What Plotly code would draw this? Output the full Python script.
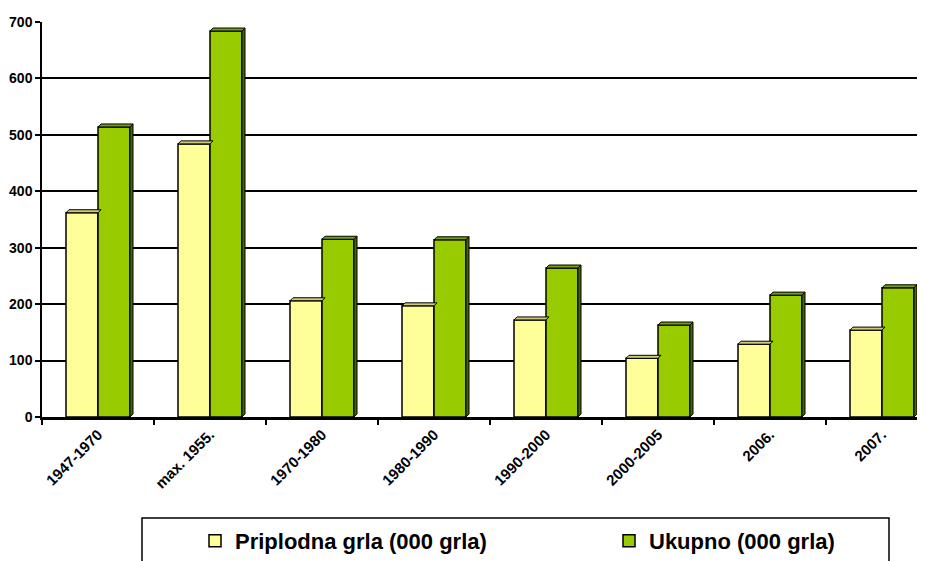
import plotly.graph_objects as go

categories = ["1947-1970", "max. 1955.", "1970-1980", "1980-1990", "1990-2000", "2000-2005", "2006.", "2007."]
priplodna = [362, 484, 206, 197, 172, 104, 129, 154]
ukupno = [514, 684, 315, 314, 264, 163, 216, 229]
series_names = ["Priplodna grla (000 grla)", "Ukupno (000 grla)"]
y_ticks = [0, 100, 200, 300, 400, 500, 600, 700]

YELLOW = "#FFFF99"
GREEN = "#99CC00"
YELLOW_TOP = "#CCCC7A"
GREEN_TOP = "#7A9F00"
GREEN_SIDE = "#4D6600"
FONT = "Arial, Liberation Sans, sans-serif"

W, H = 925, 561
OFF = 8  # page body margin offset
ML, MT, MR = 42 - OFF, 22 - OFF, 0
MB = H - (417 - OFF)
plot_w = W - ML - MR
plot_h = H - MT - MB
cat_px = 112.0
x_range = [-0.5, -0.5 + plot_w / cat_px]
y_range = [0, 700]

bargap = 48 / 112
bw = (1 - bargap) / 2
dx = 3 / cat_px
dy = 3 * (y_range[1] - y_range[0]) / plot_h


def px_x(p):
    return (p - OFF - ML) / plot_w


def px_y(p):
    return (MT + plot_h - (p - OFF)) / plot_h


fig = go.Figure()
fig.add_trace(go.Bar(x=categories, y=priplodna, name=series_names[0], legend="legend",
                     marker=dict(color=YELLOW, line=dict(color="black", width=1.5))))
fig.add_trace(go.Bar(x=categories, y=ukupno, name=series_names[1], legend="legend2",
                     marker=dict(color=GREEN, line=dict(color="black", width=1.5))))

shapes = []
for i, (a, b) in enumerate(zip(priplodna, ukupno)):
    shapes.append(dict(type="path", xref="x", yref="y", layer="above",
                       path=f"M {i-bw},{a} L {i-bw+dx},{a+dy} L {i+dx},{a+dy} L {i},{a} Z",
                       fillcolor=YELLOW_TOP, line=dict(color="black", width=1)))
    shapes.append(dict(type="path", xref="x", yref="y", layer="above",
                       path=f"M {i},{b} L {i+dx},{b+dy} L {i+bw+dx},{b+dy} L {i+bw},{b} Z",
                       fillcolor=GREEN_TOP, line=dict(color="black", width=1)))
    shapes.append(dict(type="path", xref="x", yref="y", layer="above",
                       path=f"M {i+bw},0 L {i+bw},{b} L {i+bw+dx},{b+dy} L {i+bw+dx},{dy} Z",
                       fillcolor=GREEN_SIDE, line=dict(color="black", width=1)))

# legend frame
shapes.append(dict(type="rect", xref="paper", yref="paper",
                   x0=px_x(142), x1=px_x(889), y0=px_y(518), y1=px_y(580),
                   line=dict(color="black", width=1.5), fillcolor="rgba(0,0,0,0)"))

legend_common = dict(orientation="h", xanchor="left", yanchor="middle", itemwidth=30,
                     font=dict(family=FONT, size=22, color="black", weight="bold"),
                     bgcolor="rgba(0,0,0,0)", borderwidth=0)

fig.update_layout(
    width=W, height=H,
    margin=dict(l=ML, r=MR, t=MT, b=MB, autoexpand=False),
    paper_bgcolor="white", plot_bgcolor="white",
    barmode="group", bargap=bargap, bargroupgap=0,
    shapes=shapes,
    font=dict(family=FONT, color="black"),
    showlegend=True,
    legend=dict(x=px_x(195), y=px_y(541), **legend_common),
    legend2=dict(x=px_x(609), y=px_y(541), **legend_common),
    xaxis=dict(range=x_range, type="category", tickson="boundaries", automargin=False,
               ticks="outside", ticklen=5, tickwidth=1.5, tickcolor="black",
               tickangle=-45, showline=True, linecolor="black", linewidth=3,
               showgrid=False, zeroline=False,
               tickfont=dict(family=FONT, size=15, color="black", weight="bold")),
    yaxis=dict(range=y_range, tickvals=y_ticks, ticks="outside", ticklen=5, automargin=False,
               tickwidth=1.5, tickcolor="black",
               showline=True, linecolor="black", linewidth=1.5,
               showgrid=True, gridcolor="black", gridwidth=1.5, zeroline=False,
               tickfont=dict(family=FONT, size=14, color="black", weight="bold")),
)

fig.write_html("out.html")
